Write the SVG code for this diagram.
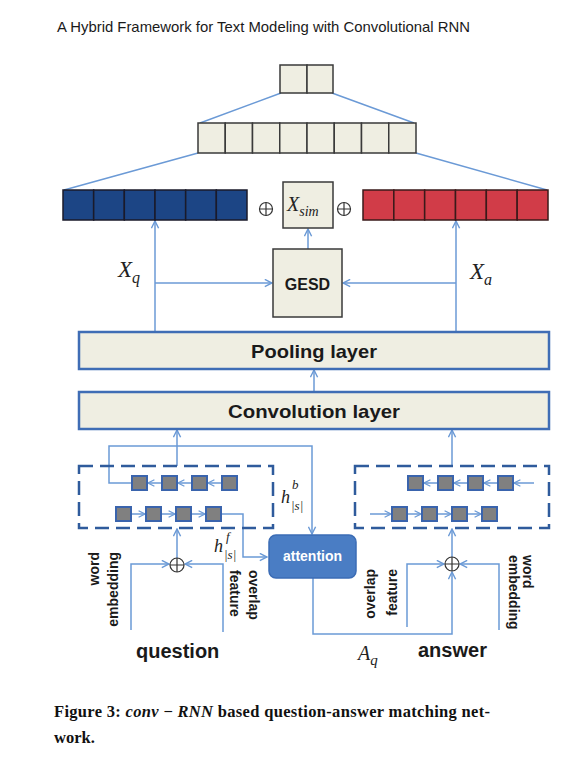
<svg xmlns="http://www.w3.org/2000/svg" width="580" height="773" viewBox="0 0 580 773">
<style>
.ln{fill:none;stroke:#6b9ad6;stroke-width:1.5}
.cell{fill:#efeee2;stroke:#3a3a3a;stroke-width:1.5}
.bcell{fill:#1c4585;stroke:#1a1a2a;stroke-width:1.5}
.rcell{fill:#d13c48;stroke:#3a1a1a;stroke-width:1.5}
.layer{fill:#efeee2;stroke:#3f6db5;stroke-width:2.5}
.dash{fill:none;stroke:#2f5b9c;stroke-width:2.5;stroke-dasharray:14 7}
.sq{fill:#808080;stroke:#3a64ad;stroke-width:2}
.lbl{font-family:"Liberation Sans",Arial,sans-serif;font-weight:bold;fill:#1a1a1a}
.math{font-family:"Liberation Serif","Times New Roman",serif;font-style:italic;fill:#222}
.op{fill:none;stroke:#333;stroke-width:1.2}
</style>
<defs>
<marker id="arr" viewBox="0 0 10 10" refX="9" refY="5" markerWidth="9" markerHeight="9" markerUnits="userSpaceOnUse" orient="auto">
<path d="M1,1 L9,5 L1,9" fill="none" stroke="#6b9ad6" stroke-width="1.6"/>
</marker>
<marker id="arrs" viewBox="0 0 10 10" refX="9" refY="5" markerWidth="8" markerHeight="8" markerUnits="userSpaceOnUse" orient="auto">
<path d="M1,1 L9,5 L1,9" fill="none" stroke="#6b9ad6" stroke-width="1.6"/>
</marker>
</defs>
<rect width="580" height="773" fill="#ffffff"/>

<text x="57" y="32" font-family="'Liberation Sans',Arial,sans-serif" font-size="15" fill="#1a1a1a" textLength="413" lengthAdjust="spacingAndGlyphs">A Hybrid Framework for Text Modeling with Convolutional RNN</text>

<g id="connectors">
<path class="ln" d="M281,93 L200,123 M332,93 L414,123"/>
<path class="ln" d="M198,153 L64,190 M416,153 L547,190"/>
<path class="ln" d="M308,249 L308,229" marker-end="url(#arr)"/>
<path class="ln" d="M155,332 L155,221" marker-end="url(#arr)"/>
<path class="ln" d="M155,283 L272,283" marker-end="url(#arr)"/>
<path class="ln" d="M456,332 L456,221" marker-end="url(#arr)"/>
<path class="ln" d="M456,283 L343,283" marker-end="url(#arr)"/>
<path class="ln" d="M314,392 L314,370" marker-end="url(#arr)"/>
<path class="ln" d="M177,466 L177,430" marker-end="url(#arr)"/>
<path class="ln" d="M452,466 L452,430" marker-end="url(#arr)"/>
<path class="ln" d="M132,483 L109,483 L109,446 L312,446 L312,534" marker-end="url(#arr)"/>
<path class="ln" d="M221,514 L243,514 L243,557 L267,557" marker-end="url(#arr)"/>
<path class="ln" d="M162,483 L148,483" marker-end="url(#arrs)"/>
<path class="ln" d="M192,483 L178,483" marker-end="url(#arrs)"/>
<path class="ln" d="M222,483 L208,483" marker-end="url(#arrs)"/>
<path class="ln" d="M131,514 L145,514" marker-end="url(#arrs)"/>
<path class="ln" d="M161,514 L175,514" marker-end="url(#arrs)"/>
<path class="ln" d="M191,514 L205,514" marker-end="url(#arrs)"/>
<path class="ln" d="M438,483 L424,483" marker-end="url(#arrs)"/>
<path class="ln" d="M468,483 L454,483" marker-end="url(#arrs)"/>
<path class="ln" d="M498,483 L484,483" marker-end="url(#arrs)"/>
<path class="ln" d="M534,483 L514,483" marker-end="url(#arrs)"/>
<path class="ln" d="M370,514 L391,514" marker-end="url(#arrs)"/>
<path class="ln" d="M407,514 L421,514" marker-end="url(#arrs)"/>
<path class="ln" d="M437,514 L451,514" marker-end="url(#arrs)"/>
<path class="ln" d="M467,514 L481,514" marker-end="url(#arrs)"/>
<path class="ln" d="M177,558 L177,529" marker-end="url(#arr)"/>
<path class="ln" d="M131,630 L131,564 L169,564" marker-end="url(#arr)"/>
<path class="ln" d="M223,632 L223,564 L185,564" marker-end="url(#arr)"/>
<path class="ln" d="M452,557 L452,529" marker-end="url(#arr)"/>
<path class="ln" d="M313,578 L313,634 L452,634 L452,572" marker-end="url(#arr)"/>
<path class="ln" d="M407,627 L407,564 L444,564" marker-end="url(#arr)"/>
<path class="ln" d="M499,630 L499,564 L460,564" marker-end="url(#arr)"/>
</g>

<g id="top-vector">
<rect class="cell" x="280" y="65" width="27" height="28"/>
<rect class="cell" x="307" y="65" width="26" height="28"/>
</g>

<g id="hidden-vector">
<rect class="cell" x="198" y="123" width="27.25" height="30"/>
<rect class="cell" x="225.25" y="123" width="27.25" height="30"/>
<rect class="cell" x="252.5" y="123" width="27.25" height="30"/>
<rect class="cell" x="279.75" y="123" width="27.25" height="30"/>
<rect class="cell" x="307" y="123" width="27.25" height="30"/>
<rect class="cell" x="334.25" y="123" width="27.25" height="30"/>
<rect class="cell" x="361.5" y="123" width="27.25" height="30"/>
<rect class="cell" x="388.75" y="123" width="27.25" height="30"/>
</g>

<g id="xq-vector">
<rect class="bcell" x="63" y="190" width="30.67" height="30"/>
<rect class="bcell" x="93.67" y="190" width="30.67" height="30"/>
<rect class="bcell" x="124.33" y="190" width="30.67" height="30"/>
<rect class="bcell" x="155" y="190" width="30.67" height="30"/>
<rect class="bcell" x="185.67" y="190" width="30.67" height="30"/>
<rect class="bcell" x="216.33" y="190" width="30.67" height="30"/>
</g>

<g id="plus-top-left">
<circle class="op" cx="266" cy="209" r="6.5"/>
<path class="op" d="M259.5,209 H272.5 M266,202.5 V215.5"/>
</g>

<g id="xsim">
<rect class="cell" x="283" y="182" width="50" height="46"/>
<text class="math" x="287" y="211" font-size="20">X<tspan font-size="14" dy="5">sim</tspan></text>
</g>

<g id="plus-top-right">
<circle class="op" cx="344" cy="209" r="6.5"/>
<path class="op" d="M337.5,209 H350.5 M344,202.5 V215.5"/>
</g>

<g id="xa-vector">
<rect class="rcell" x="363" y="190" width="30.83" height="30"/>
<rect class="rcell" x="393.83" y="190" width="30.83" height="30"/>
<rect class="rcell" x="424.67" y="190" width="30.83" height="30"/>
<rect class="rcell" x="455.5" y="190" width="30.83" height="30"/>
<rect class="rcell" x="486.33" y="190" width="30.83" height="30"/>
<rect class="rcell" x="517.17" y="190" width="30.83" height="30"/>
</g>

<g id="label-xq"><text class="math" x="118" y="277" font-size="23">X<tspan font-size="16" dy="6">q</tspan></text></g>
<g id="label-xa"><text class="math" x="470" y="279" font-size="23">X<tspan font-size="16" dy="6">a</tspan></text></g>

<g id="gesd">
<rect class="cell" x="273" y="249" width="69" height="68"/>
<text class="lbl" x="307.5" y="290" font-size="16" text-anchor="middle">GESD</text>
</g>

<g id="pooling">
<rect class="layer" x="79" y="332" width="470" height="37"/>
<text class="lbl" x="314" y="358" font-size="19" text-anchor="middle" textLength="126" lengthAdjust="spacingAndGlyphs">Pooling layer</text>
</g>

<g id="convolution">
<rect class="layer" x="79" y="392" width="470" height="37"/>
<text class="lbl" x="314" y="418" font-size="19" text-anchor="middle" textLength="172" lengthAdjust="spacingAndGlyphs">Convolution layer</text>
</g>

<g id="rnn-question">
<rect class="dash" x="79" y="466" width="194" height="62"/>
<rect class="sq" x="132" y="476" width="15" height="14"/>
<rect class="sq" x="162" y="476" width="15" height="14"/>
<rect class="sq" x="192" y="476" width="15" height="14"/>
<rect class="sq" x="222" y="476" width="15" height="14"/>
<rect class="sq" x="116" y="507" width="15" height="14"/>
<rect class="sq" x="146" y="507" width="15" height="14"/>
<rect class="sq" x="176" y="507" width="15" height="14"/>
<rect class="sq" x="206" y="507" width="15" height="14"/>
</g>

<g id="rnn-answer">
<rect class="dash" x="355" y="466" width="194" height="62"/>
<rect class="sq" x="408" y="476" width="15" height="14"/>
<rect class="sq" x="438" y="476" width="15" height="14"/>
<rect class="sq" x="468" y="476" width="15" height="14"/>
<rect class="sq" x="498" y="476" width="15" height="14"/>
<rect class="sq" x="392" y="507" width="15" height="14"/>
<rect class="sq" x="422" y="507" width="15" height="14"/>
<rect class="sq" x="452" y="507" width="15" height="14"/>
<rect class="sq" x="482" y="507" width="15" height="14"/>
</g>

<g id="label-hb">
<text class="math" x="281" y="503" font-size="18">h</text>
<text class="math" x="292" y="489" font-size="13">b</text>
<text class="math" x="291" y="510" font-size="13">|s|</text>
</g>
<g id="label-hf">
<text class="math" x="214" y="552" font-size="18">h</text>
<text class="math" x="226" y="541" font-size="13">f</text>
<text class="math" x="224" y="559" font-size="13">|s|</text>
</g>

<g id="attention">
<rect x="269" y="535" width="87" height="43" rx="7" fill="#4a7dc4" stroke="#3b6cb5" stroke-width="1.5"/>
<text x="312.5" y="561" font-family="'Liberation Sans',Arial,sans-serif" font-weight="bold" font-size="14" fill="#ffffff" text-anchor="middle">attention</text>
</g>

<g id="plus-question">
<circle class="op" cx="177" cy="565" r="7"/>
<path class="op" d="M170,565 H184 M177,558 V572"/>
</g>
<g id="plus-answer">
<circle class="op" cx="452" cy="564" r="7"/>
<path class="op" d="M445,564 H459 M452,557 V571"/>
</g>

<g id="labels-question-inputs">
<text class="lbl" font-size="14" text-anchor="end" transform="translate(99,552) rotate(-90)">word</text>
<text class="lbl" font-size="14" text-anchor="end" transform="translate(118,552) rotate(-90)">embedding</text>
<text class="lbl" font-size="14" transform="translate(249,570) rotate(90)">overlap</text>
<text class="lbl" font-size="14" transform="translate(230,570) rotate(90)">feature</text>
</g>
<g id="labels-answer-inputs">
<text class="lbl" font-size="14" text-anchor="end" transform="translate(375,569) rotate(-90)">overlap</text>
<text class="lbl" font-size="14" text-anchor="end" transform="translate(397,569) rotate(-90)">feature</text>
<text class="lbl" font-size="14" transform="translate(523,555) rotate(90)">word</text>
<text class="lbl" font-size="14" transform="translate(509,555) rotate(90)">embedding</text>
</g>

<g id="label-question"><text class="lbl" x="136" y="658" font-size="20">question</text></g>
<g id="label-aq"><text class="math" x="358" y="660" font-size="20">A<tspan font-size="15" dy="5">q</tspan></text></g>
<g id="label-answer"><text class="lbl" x="418" y="657" font-size="20">answer</text></g>

<text x="54" y="717" font-family="'Liberation Serif','Times New Roman',serif" font-weight="bold" font-size="16.5" fill="#111" textLength="436" lengthAdjust="spacing">Figure 3: <tspan font-style="italic">conv</tspan> − <tspan font-style="italic">RNN</tspan> based question-answer matching net-</text>
<text x="54" y="743" font-family="'Liberation Serif','Times New Roman',serif" font-weight="bold" font-size="16.5" fill="#111">work.</text>
</svg>
